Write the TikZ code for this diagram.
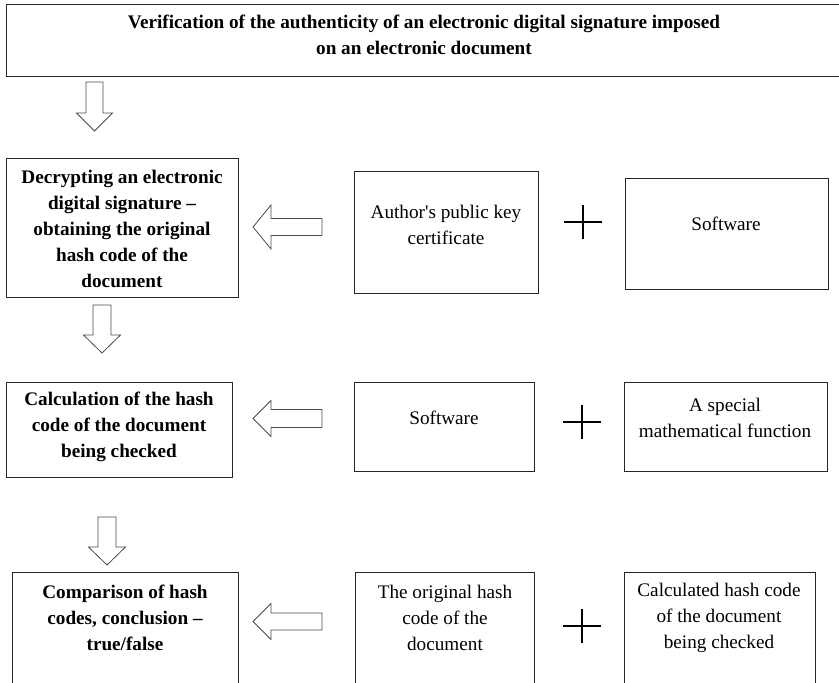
\documentclass[tikz,border=0pt]{standalone}
\usepackage{fontspec}
\setmainfont{Liberation Serif}[Ligatures=TeXOff]
\newcommand\MyBox[5]{\node[box, anchor=north west, minimum width=#4*0.75pt, minimum height=#5*0.75pt, inner sep=0pt] (#1) at (#2,#3) {};}
\newcommand\ArrDown[6]{\draw[barrow] ({#1-#2},#3) -- ({#1+#2},#3) -- ({#1+#2},#4) -- ({#1+#5},#4) -- (#1,#6) -- ({#1-#5},#4) -- ({#1-#2},#4) -- cycle;}
\newcommand\ArrLeft[3]{\draw[barrow] (322,{#1-#2}) -- (322,{#1+#2}) -- (271,{#1+#2}) -- (271,{#1+#3}) -- (253,#1) -- (271,{#1-#3}) -- (271,{#1-#2}) -- cycle;}
\newcommand\PlusAt[2]{\draw[plussign] ({#1-19},#2) -- ({#1+19},#2) (#1,{#2-17}) -- (#1,{#2+17});}
\begin{document}
\begin{tikzpicture}[x=0.75pt,y=-0.75pt,
  box/.style={draw=black!85, line width=1pt},
  bt/.style={font=\fontsize{14.4}{19.5}\selectfont\bfseries, align=center, inner sep=0pt},
  rt/.style={font=\fontsize{14.4}{19.5}\selectfont, align=center, inner sep=0pt},
  barrow/.style={draw=black!70, line width=0.6pt, fill=white},
  plussign/.style={draw=black, line width=1.2pt}]
\useasboundingbox (0,0) rectangle (839,682);
\clip (0,0) rectangle (839,682);
% boxes
\MyBox{T}{6}{4}{837}{72}
\MyBox{A}{6}{158}{232}{139}
\MyBox{Au}{354}{171}{184}{122}
\MyBox{S1}{625}{178}{203}{111}
\MyBox{B}{6}{382}{226}{95}
\MyBox{S2}{354}{382}{180}{89}
\MyBox{M}{624}{382}{203}{89}
\MyBox{C}{12}{572}{226}{130}
\MyBox{O}{355}{572}{179}{130}
\MyBox{K}{624}{572}{191}{130}
% texts
\node[bt] (tT) at (424,35) {Verification of the authenticity of an electronic digital signature imposed\\on an electronic document};
\node[bt] (tA) at (122,229) {Decrypting an electronic\\digital signature –\\obtaining the original\\hash code of the\\document};
\node[rt] (tAu) at (446,225) {Author's public key\\certificate};
\node[rt] (tS1) at (726,224) {Software};
\node[bt] (tB) at (119,427) {Calculation of the hash\\code of the document\\being checked};
\node[rt] (tS2) at (444,418) {Software};
\node[rt] (tM) at (725,418) {A special\\mathematical function};
\node[bt] (tC) at (125,618) {Comparison of hash\\codes, conclusion –\\true/false};
\node[rt] (tO) at (445,618) {The original hash\\code of the\\document};
\node[rt] (tK) at (719,618) {Calculated hash code\\of the document\\being checked};
% plus signs
\PlusAt{583}{222}
\PlusAt{582}{422}
\PlusAt{582}{626}
% block arrows
\ArrDown{94.5}{8.5}{82}{113}{18}{131}
\ArrDown{102}{9}{305}{335}{18.5}{353}
\ArrDown{107}{9}{517}{547}{18.5}{565}
\ArrLeft{227}{8.5}{22}
\ArrLeft{418.5}{9}{18}
\ArrLeft{621.5}{8.5}{18}
\end{tikzpicture}
\end{document}
